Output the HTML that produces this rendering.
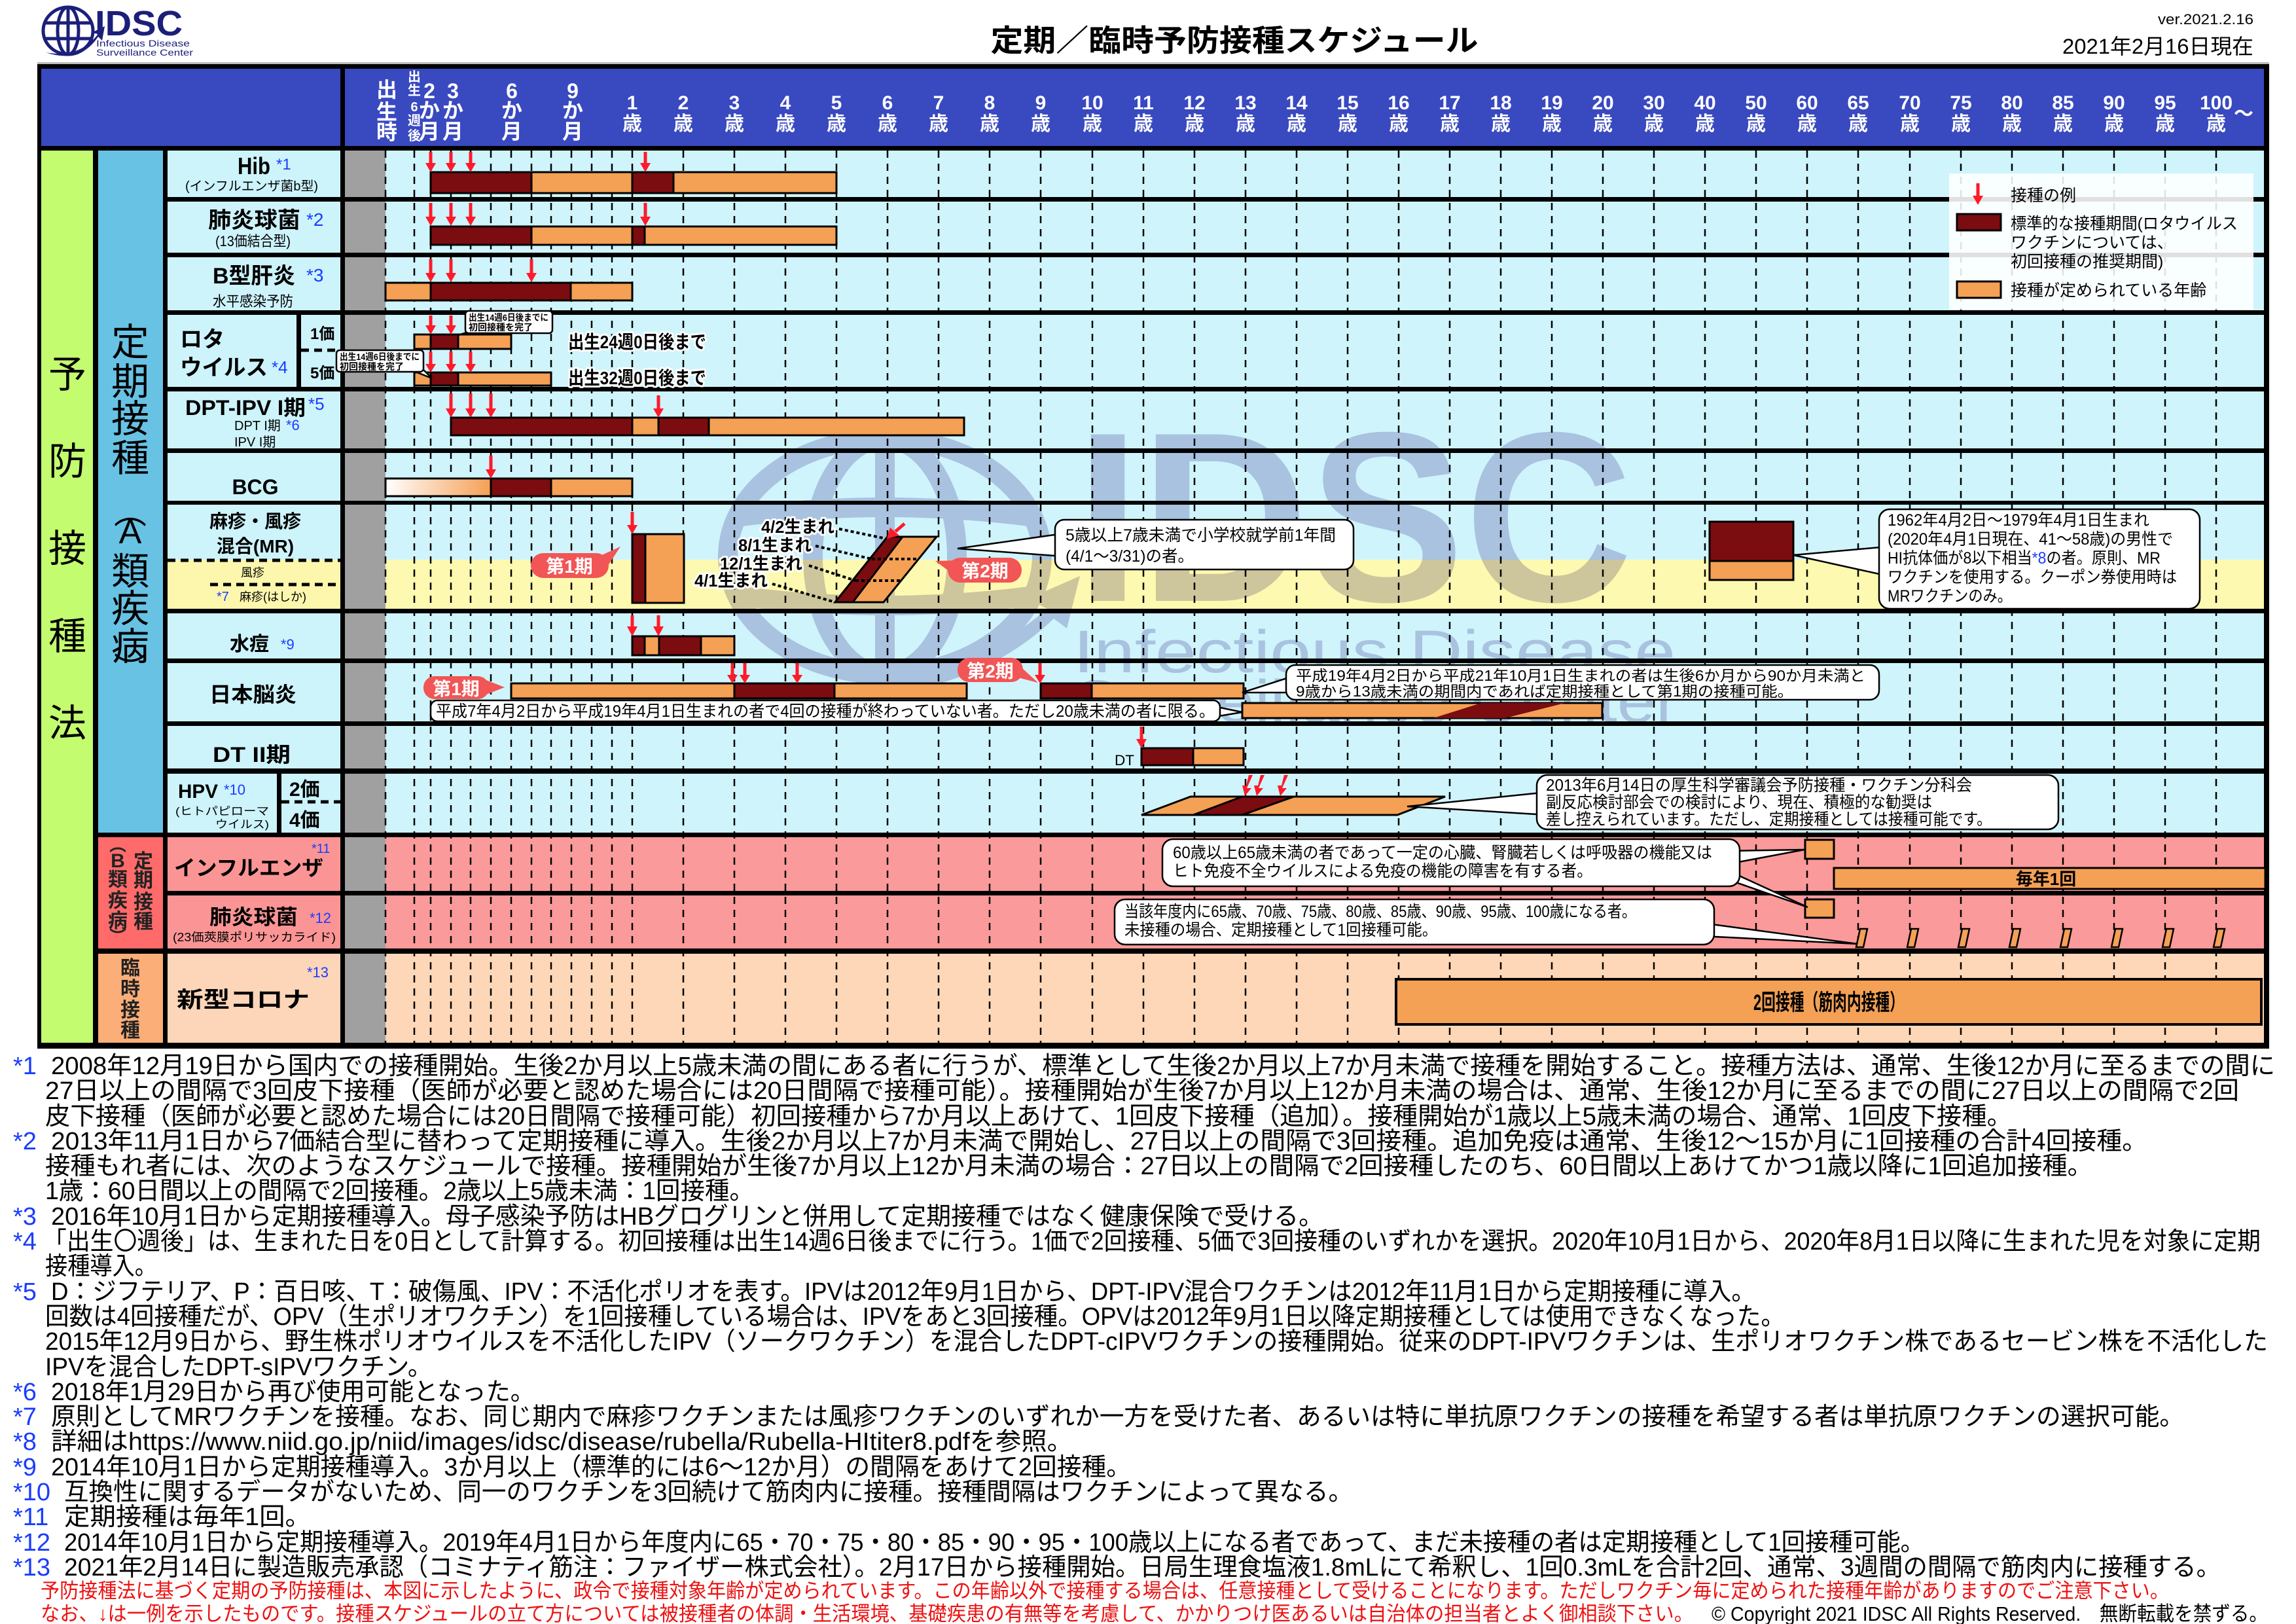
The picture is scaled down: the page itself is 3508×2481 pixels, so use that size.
<!DOCTYPE html>
<html><head><meta charset="utf-8">
<style>
html,body{margin:0;padding:0;background:#fff;}
svg{display:block;}
text{font-family:"Liberation Sans","Noto Sans CJK JP",sans-serif;}
.b{font-weight:700;}
.w{fill:#fff;font-weight:700;}
.bl{fill:#1a3cff;}
.halo{paint-order:stroke;stroke:#fff;stroke-width:6px;stroke-linejoin:round;}
</style></head>
<body>
<svg width="3508" height="2481" viewBox="0 0 3508 2481" xmlns="http://www.w3.org/2000/svg">
<defs>
<linearGradient id="gr" x1="0" x2="1" y1="0" y2="0"><stop offset="0" stop-color="#fff"/><stop offset="1" stop-color="#f4a055"/></linearGradient>
</defs>
<rect width="3508" height="2481" fill="#fff"/>

<!-- top logo -->
<g fill="none" stroke="#1c1f7a" stroke-width="5">
<ellipse cx="104" cy="47" rx="38" ry="36"/>
<ellipse cx="104" cy="47" rx="16" ry="36"/>
<line x1="104" y1="11" x2="104" y2="83"/>
<line x1="68" y1="35" x2="140" y2="35"/><line x1="68" y1="59" x2="140" y2="59"/>
</g>
<path d="M70 80 Q120 90 150 52 L140 50 L160 40 L156 62 L150 56 Q122 98 70 80Z" fill="#1c1f7a"/>
<text x="145" y="54" font-size="54" class="b" fill="#1c1f7a" textLength="134" lengthAdjust="spacingAndGlyphs">IDSC</text>
<text x="147" y="71" font-size="14" fill="#1c1f7a" textLength="143" lengthAdjust="spacingAndGlyphs">Infectious Disease</text>
<text x="147" y="85" font-size="14" fill="#1c1f7a" textLength="148" lengthAdjust="spacingAndGlyphs">Surveillance Center</text>

<text x="1886" y="78" font-size="46" class="b" text-anchor="middle" textLength="745" lengthAdjust="spacingAndGlyphs">定期／臨時予防接種スケジュール</text>
<text x="3443" y="37" font-size="22" text-anchor="end" textLength="146" lengthAdjust="spacingAndGlyphs">ver.2021.2.16</text>
<text x="3443" y="82" font-size="32" text-anchor="end" textLength="292" lengthAdjust="spacingAndGlyphs">2021年2月16日現在</text>

<!-- table frame -->
<rect x="57" y="95" width="3410" height="3" fill="#bbb"/>
<rect x="57" y="98" width="3410" height="1504" fill="#000"/>
<rect x="63" y="105" width="3396" height="118" fill="#3949c0"/>
<rect x="520" y="105" width="7" height="118" fill="#000"/>

<!-- left columns -->
<rect x="63" y="230" width="79" height="1363" fill="#c3fc6f"/>
<rect x="150" y="230" width="99" height="1042" fill="#68c2e4"/>
<rect x="150" y="1279" width="99" height="170" fill="#ff6b6b"/>
<rect x="150" y="1457" width="99" height="136" fill="#fbae78"/>

<!-- name cells -->
<g fill="#cdf3fb">
<rect x="256" y="230" width="264" height="71"/>
<rect x="256" y="308" width="264" height="78"/>
<rect x="256" y="393" width="264" height="81"/>
<rect x="256" y="481" width="264" height="110"/>
<rect x="256" y="598" width="264" height="87"/>
<rect x="256" y="692" width="264" height="73"/>
<rect x="256" y="771" width="264" height="84"/>
<rect x="256" y="937" width="264" height="69"/>
<rect x="256" y="1013" width="264" height="89"/>
<rect x="256" y="1109" width="264" height="65"/>
<rect x="256" y="1182" width="264" height="90"/>
</g>
<rect x="256" y="855" width="264" height="75" fill="#fdf7ae"/>
<rect x="256" y="1279" width="264" height="82" fill="#fb9595"/>
<rect x="256" y="1368" width="264" height="81" fill="#fb9595"/>
<rect x="256" y="1457" width="264" height="136" fill="#fdd5b8"/>
<rect x="527" y="230" width="62" height="1363" fill="#a0a0a0"/>

<!-- grid backgrounds -->
<rect x="589" y="230" width="2870" height="1042" fill="#cff4fc"/>
<rect x="589" y="855" width="2870" height="75" fill="#fdf9b0"/>
<rect x="589" y="1279" width="2870" height="170" fill="#fb9a9a"/>
<rect x="589" y="1457" width="2870" height="136" fill="#fdd7b8"/>

<!-- watermark -->
<g style="mix-blend-mode:multiply" fill="#cfcbe2" stroke="#cfcbe2">
<g fill="none" stroke-width="30">
<ellipse cx="1352" cy="850" rx="240" ry="180"/>
<ellipse cx="1352" cy="850" rx="110" ry="180"/>
<line x1="1352" y1="670" x2="1352" y2="1030"/>
<path d="M1125 790 Q1352 760 1580 790"/>
<path d="M1125 910 Q1352 940 1580 910"/>
</g>
<path d="M1180 1060 Q1450 1060 1600 930 L1570 915 L1650 880 L1630 960 L1610 945 Q1460 1090 1180 1060Z" stroke="none"/>
<text x="1643" y="918" font-size="370" class="b" stroke="none" textLength="852" lengthAdjust="spacingAndGlyphs">IDSC</text>
<text x="1640" y="1027" font-size="92" stroke="none" textLength="920" lengthAdjust="spacingAndGlyphs">Infectious Disease</text>
<text x="1640" y="1103" font-size="92" stroke="none" textLength="925" lengthAdjust="spacingAndGlyphs">Surveillance Center</text>
</g>

<!-- dashed grid lines -->
<g stroke="#000" stroke-width="2.5" stroke-dasharray="11 9">
<line x1="589" y1="230" x2="589" y2="1593"/><line x1="633" y1="230" x2="633" y2="1593"/>
<line x1="658" y1="230" x2="658" y2="1593"/><line x1="689" y1="230" x2="689" y2="1593"/>
<line x1="719" y1="230" x2="719" y2="1593"/><line x1="750" y1="230" x2="750" y2="1593"/>
<line x1="781" y1="230" x2="781" y2="1593"/><line x1="812" y1="230" x2="812" y2="1593"/>
<line x1="842" y1="230" x2="842" y2="1593"/><line x1="873" y1="230" x2="873" y2="1593"/>
<line x1="904" y1="230" x2="904" y2="1593"/><line x1="935" y1="230" x2="935" y2="1593"/>
<line x1="966" y1="230" x2="966" y2="1593"/><line x1="1044" y1="230" x2="1044" y2="1593"/>
<line x1="1122" y1="230" x2="1122" y2="1593"/><line x1="1200" y1="230" x2="1200" y2="1593"/>
<line x1="1278" y1="230" x2="1278" y2="1593"/><line x1="1356" y1="230" x2="1356" y2="1593"/>
<line x1="1434" y1="230" x2="1434" y2="1593"/><line x1="1512" y1="230" x2="1512" y2="1593"/>
<line x1="1590" y1="230" x2="1590" y2="1593"/><line x1="1669" y1="230" x2="1669" y2="1593"/>
<line x1="1747" y1="230" x2="1747" y2="1593"/><line x1="1825" y1="230" x2="1825" y2="1593"/>
<line x1="1903" y1="230" x2="1903" y2="1593"/><line x1="1981" y1="230" x2="1981" y2="1593"/>
<line x1="2059" y1="230" x2="2059" y2="1593"/><line x1="2137" y1="230" x2="2137" y2="1593"/>
<line x1="2215" y1="230" x2="2215" y2="1593"/><line x1="2293" y1="230" x2="2293" y2="1593"/>
<line x1="2371" y1="230" x2="2371" y2="1593"/><line x1="2449" y1="230" x2="2449" y2="1593"/>
<line x1="2527" y1="230" x2="2527" y2="1593"/><line x1="2605" y1="230" x2="2605" y2="1593"/>
<line x1="2683" y1="230" x2="2683" y2="1593"/><line x1="2761" y1="230" x2="2761" y2="1593"/>
<line x1="2839" y1="230" x2="2839" y2="1593"/><line x1="2918" y1="230" x2="2918" y2="1593"/>
<line x1="2996" y1="230" x2="2996" y2="1593"/><line x1="3074" y1="230" x2="3074" y2="1593"/>
<line x1="3152" y1="230" x2="3152" y2="1593"/><line x1="3230" y1="230" x2="3230" y2="1593"/>
<line x1="3308" y1="230" x2="3308" y2="1593"/><line x1="3386" y1="230" x2="3386" y2="1593"/>
</g>

<!-- black separators -->
<g fill="#000">
<rect x="57" y="223" width="3410" height="7"/>
<rect x="142" y="223" width="8" height="1375"/>
<rect x="249" y="223" width="7" height="1375"/>
<rect x="520" y="223" width="7" height="1375"/>
<rect x="249" y="301" width="3218" height="7"/>
<rect x="249" y="386" width="3218" height="7"/>
<rect x="249" y="474" width="3218" height="7"/>
<rect x="249" y="591" width="3218" height="7"/>
<rect x="249" y="685" width="3218" height="7"/>
<rect x="249" y="765" width="3218" height="6"/>
<rect x="249" y="930" width="3218" height="7"/>
<rect x="249" y="1006" width="3218" height="7"/>
<rect x="249" y="1102" width="3218" height="7"/>
<rect x="249" y="1174" width="3218" height="8"/>
<rect x="150" y="1272" width="3317" height="7"/>
<rect x="249" y="1361" width="3218" height="7"/>
<rect x="150" y="1449" width="3317" height="8"/>
<rect x="453" y="481" width="7" height="110"/>
<rect x="423" y="1182" width="7" height="90"/>
</g>
<g stroke="#000" stroke-width="5" stroke-dasharray="12 8">
<line x1="460" y1="535" x2="520" y2="535"/>
<line x1="256" y1="856" x2="520" y2="856"/>
<line x1="321" y1="893" x2="520" y2="893"/>
<line x1="430" y1="1225" x2="520" y2="1225"/>
</g>

<!-- header labels -->
<g class="w" fill="#fff" font-size="32" text-anchor="middle">
<text x="591" y="148">出</text><text x="591" y="182">生</text><text x="591" y="213">時</text>
<g font-size="20"><text x="633" y="124">出</text><text x="633" y="145">生</text><text x="633" y="170">6</text><text x="633" y="191">週</text><text x="633" y="214">後</text></g>
<text x="656" y="150">2</text><text x="656" y="180">か</text><text x="656" y="212">月</text>
<text x="692" y="150">3</text><text x="692" y="180">か</text><text x="692" y="212">月</text>
<text x="782" y="150">6</text><text x="782" y="180">か</text><text x="782" y="212">月</text>
<text x="875" y="150">9</text><text x="875" y="180">か</text><text x="875" y="212">月</text>
<g font-size="30">
<text x="966" y="167">1</text><text x="1044" y="167">2</text><text x="1122" y="167">3</text><text x="1200" y="167">4</text><text x="1278" y="167">5</text><text x="1356" y="167">6</text><text x="1434" y="167">7</text><text x="1512" y="167">8</text><text x="1590" y="167">9</text><text x="1669" y="167">10</text><text x="1747" y="167">11</text><text x="1825" y="167">12</text><text x="1903" y="167">13</text><text x="1981" y="167">14</text><text x="2059" y="167">15</text><text x="2137" y="167">16</text><text x="2215" y="167">17</text><text x="2293" y="167">18</text><text x="2371" y="167">19</text><text x="2449" y="167">20</text><text x="2527" y="167">30</text><text x="2605" y="167">40</text><text x="2683" y="167">50</text><text x="2761" y="167">60</text><text x="2839" y="167">65</text><text x="2918" y="167">70</text><text x="2996" y="167">75</text><text x="3074" y="167">80</text><text x="3152" y="167">85</text><text x="3230" y="167">90</text><text x="3308" y="167">95</text><text x="3386" y="167">100</text>
<text x="966" y="199">歳</text><text x="1044" y="199">歳</text><text x="1122" y="199">歳</text><text x="1200" y="199">歳</text><text x="1278" y="199">歳</text><text x="1356" y="199">歳</text><text x="1434" y="199">歳</text><text x="1512" y="199">歳</text><text x="1590" y="199">歳</text><text x="1669" y="199">歳</text><text x="1747" y="199">歳</text><text x="1825" y="199">歳</text><text x="1903" y="199">歳</text><text x="1981" y="199">歳</text><text x="2059" y="199">歳</text><text x="2137" y="199">歳</text><text x="2215" y="199">歳</text><text x="2293" y="199">歳</text><text x="2371" y="199">歳</text><text x="2449" y="199">歳</text><text x="2527" y="199">歳</text><text x="2605" y="199">歳</text><text x="2683" y="199">歳</text><text x="2761" y="199">歳</text><text x="2839" y="199">歳</text><text x="2918" y="199">歳</text><text x="2996" y="199">歳</text><text x="3074" y="199">歳</text><text x="3152" y="199">歳</text><text x="3230" y="199">歳</text><text x="3308" y="199">歳</text><text x="3386" y="199">歳</text>
<text x="3428" y="184">～</text>
</g>
</g>

<!-- left vertical labels -->
<g font-size="58" text-anchor="middle">
<text x="103" y="592">予</text><text x="103" y="725">防</text><text x="103" y="858">接</text><text x="103" y="992">種</text><text x="103" y="1125">法</text>
<text x="199" y="543">定</text><text x="199" y="603">期</text><text x="199" y="660">接</text><text x="199" y="720">種</text>
<text x="199" y="800" font-size="50">︵</text><text x="199" y="830" font-size="52">A</text><text x="199" y="893">類</text><text x="199" y="950">疾</text><text x="199" y="1008">病</text><text x="199" y="1040" font-size="50">︶</text>
</g>
<g font-size="30" text-anchor="middle" fill="#222" class="b">
<text x="180" y="1300" font-size="26">︵</text><text x="180" y="1325">B</text><text x="180" y="1354">類</text><text x="180" y="1386">疾</text><text x="180" y="1417">病</text><text x="180" y="1440" font-size="26">︶</text>
<text x="219" y="1326">定</text><text x="219" y="1355">期</text><text x="219" y="1388">接</text><text x="219" y="1418">種</text>
<text x="199" y="1489">臨</text><text x="199" y="1521">時</text><text x="199" y="1553">接</text><text x="199" y="1584">種</text>
</g>

<!-- names -->
<g class="b">
<text x="363" y="266" font-size="36" textLength="50" lengthAdjust="spacingAndGlyphs">Hib</text>
<text x="283" y="291" font-size="20" font-weight="400" textLength="203" lengthAdjust="spacingAndGlyphs">(インフルエンザ菌b型)</text>
<text x="318" y="348" font-size="34" textLength="141" lengthAdjust="spacingAndGlyphs">肺炎球菌</text>
<text x="329" y="376" font-size="22" font-weight="400" textLength="115" lengthAdjust="spacingAndGlyphs">(13価結合型)</text>
<text x="325" y="433" font-size="34" textLength="126" lengthAdjust="spacingAndGlyphs">B型肝炎</text>
<text x="325" y="468" font-size="22" font-weight="400" textLength="123" lengthAdjust="spacingAndGlyphs">水平感染予防</text>
<text x="275" y="530" font-size="34">ロタ</text>
<text x="275" y="573" font-size="34" textLength="134" lengthAdjust="spacingAndGlyphs">ウイルス</text>
<text x="474" y="518" font-size="24">1価</text>
<text x="474" y="578" font-size="24">5価</text>
<text x="283" y="634" font-size="32" textLength="184" lengthAdjust="spacingAndGlyphs">DPT-IPV I期</text>
<text x="358" y="657" font-size="20" font-weight="400">DPT I期</text>
<text x="358" y="682" font-size="20" font-weight="400">IPV I期</text>
<text x="390" y="755" font-size="32" text-anchor="middle">BCG</text>
<text x="390" y="806" font-size="28" text-anchor="middle">麻疹・風疹</text>
<text x="390" y="844" font-size="28" text-anchor="middle">混合(MR)</text>
<text x="386" y="881" font-size="18" font-weight="400" text-anchor="middle">風疹</text>
<text x="366" y="918" font-size="18" font-weight="400">麻疹(はしか)</text>
<text x="351" y="994" font-size="30">水痘</text>
<text x="320" y="1072" font-size="32" textLength="133" lengthAdjust="spacingAndGlyphs">日本脳炎</text>
<text x="325" y="1164" font-size="32" textLength="119" lengthAdjust="spacingAndGlyphs">DT II期</text>
<text x="272" y="1219" font-size="30" textLength="61" lengthAdjust="spacingAndGlyphs">HPV</text>
<text x="268" y="1245" font-size="17" font-weight="400" textLength="143" lengthAdjust="spacingAndGlyphs">(ヒトパピローマ</text>
<text x="329" y="1265" font-size="17" font-weight="400" textLength="82" lengthAdjust="spacingAndGlyphs">ウイルス)</text>
<text x="442" y="1216" font-size="30">2価</text>
<text x="442" y="1263" font-size="30">4価</text>
<text x="266" y="1337" font-size="32" textLength="228" lengthAdjust="spacingAndGlyphs">インフルエンザ</text>
<text x="320" y="1412" font-size="32" textLength="135" lengthAdjust="spacingAndGlyphs">肺炎球菌</text>
<text x="264" y="1438" font-size="18" font-weight="400" textLength="249" lengthAdjust="spacingAndGlyphs">(23価莢膜ポリサッカライド)</text>
<text x="270" y="1539" font-size="34" textLength="203" lengthAdjust="spacingAndGlyphs">新型コロナ</text>
</g>
<g class="bl" font-size="24">
<text x="422" y="259">*1</text><text x="468" y="345" font-size="28">*2</text><text x="468" y="430" font-size="28">*3</text>
<text x="415" y="570" font-size="26">*4</text><text x="471" y="626" font-size="26">*5</text><text x="437" y="657" font-size="22">*6</text>
<text x="331" y="918" font-size="20">*7</text><text x="429" y="992" font-size="22">*9</text><text x="342" y="1214" font-size="22">*10</text>
<text x="476" y="1303" font-size="20">*11</text><text x="473" y="1410" font-size="22">*12</text><text x="469" y="1493" font-size="22">*13</text>
</g>

<!-- legend -->
<rect x="2978" y="265" width="465" height="208" fill="#fff" fill-opacity="0.88"/>
<rect x="2990" y="327" width="67" height="25" fill="#7b0c10" stroke="#000" stroke-width="3"/>
<rect x="2990" y="430" width="67" height="25" fill="#f4a055" stroke="#000" stroke-width="3"/>
<g font-size="25">
<text x="3072" y="307">接種の例</text>
<text x="3072" y="350" textLength="347" lengthAdjust="spacingAndGlyphs">標準的な接種期間(ロタウイルス</text>
<text x="3072" y="379">ワクチンについては、</text>
<text x="3072" y="408">初回接種の推奨期間)</text>
<text x="3072" y="452">接種が定められている年齢</text>
</g>

<!-- bars -->
<g stroke="#000" stroke-width="3">
<!-- Hib -->
<rect x="658" y="263" width="154" height="32" fill="#7b0c10"/><rect x="812" y="263" width="154" height="32" fill="#f4a055"/><rect x="966" y="263" width="63" height="32" fill="#7b0c10"/><rect x="1029" y="263" width="249" height="32" fill="#f4a055"/>
<!-- PCV -->
<rect x="658" y="346" width="154" height="28" fill="#7b0c10"/><rect x="812" y="346" width="154" height="28" fill="#f4a055"/><rect x="966" y="346" width="19" height="28" fill="#7b0c10"/><rect x="985" y="346" width="293" height="28" fill="#f4a055"/>
<!-- HepB -->
<rect x="589" y="432" width="69" height="27" fill="#f4a055"/><rect x="658" y="432" width="214" height="27" fill="#7b0c10"/><rect x="872" y="432" width="94" height="27" fill="#f4a055"/>
<!-- Rota -->
<rect x="633" y="511" width="25" height="22" fill="#f4a055"/><rect x="658" y="511" width="42" height="22" fill="#7b0c10"/><rect x="700" y="511" width="81" height="22" fill="#f4a055"/>
<rect x="633" y="569" width="25" height="20" fill="#f4a055"/><rect x="658" y="569" width="42" height="20" fill="#7b0c10"/><rect x="700" y="569" width="142" height="20" fill="#f4a055"/>
<!-- DPT -->
<rect x="689" y="638" width="277" height="27" fill="#7b0c10"/><rect x="966" y="638" width="40" height="27" fill="#f4a055"/><rect x="1006" y="638" width="77" height="27" fill="#7b0c10"/><rect x="1083" y="638" width="390" height="27" fill="#f4a055"/>
<!-- BCG -->
<rect x="589" y="731" width="161" height="27" fill="url(#gr)"/><rect x="750" y="731" width="92" height="27" fill="#7b0c10"/><rect x="842" y="731" width="124" height="27" fill="#f4a055"/>
<!-- MR -->
<rect x="966" y="816" width="20" height="105" fill="#7b0c10"/><rect x="986" y="816" width="59" height="105" fill="#f4a055"/>
<polygon points="1356,820 1431,820 1350,920 1276,920" fill="#f4a055"/>
<polygon points="1356,820 1379,820 1303,920 1276,920" fill="#7b0c10"/>
<rect x="2612" y="797" width="128" height="60" fill="#7b0c10"/><rect x="2612" y="857" width="128" height="29" fill="#f4a055"/>
<!-- Varicella -->
<rect x="966" y="972" width="19" height="29" fill="#7b0c10"/><rect x="985" y="972" width="22" height="29" fill="#f4a055"/><rect x="1007" y="972" width="64" height="29" fill="#7b0c10"/><rect x="1071" y="972" width="51" height="29" fill="#f4a055"/>
<!-- JE -->
<rect x="781" y="1044" width="341" height="23" fill="#f4a055"/><rect x="1122" y="1044" width="153" height="23" fill="#7b0c10"/><rect x="1275" y="1044" width="202" height="23" fill="#f4a055"/>
<rect x="1590" y="1044" width="78" height="23" fill="#7b0c10"/><rect x="1668" y="1044" width="232" height="23" fill="#f4a055"/>
<rect x="1898" y="1074" width="550" height="23" fill="#f4a055"/>
<polygon points="2190,1097 2263,1074 2391,1074 2300,1097" fill="#7b0c10" stroke="none"/>
<!-- DT -->
<rect x="1744" y="1143" width="79" height="26" fill="#7b0c10"/><rect x="1823" y="1143" width="77" height="26" fill="#f4a055"/>
<!-- HPV -->
<polygon points="1744,1245 1819,1217 2208,1217 2135,1245" fill="#f4a055"/>
<polygon points="1823,1245 1898,1217 1977,1217 1898,1245" fill="#7b0c10"/>
<!-- Flu / PPSV -->
<rect x="2758" y="1283" width="44" height="29" fill="#f4a055"/>
<rect x="2802" y="1326" width="659" height="32" fill="#f4a055"/>
<rect x="2758" y="1374" width="44" height="28" fill="#f4a055"/>
<g stroke-width="2.5" fill="#f4a055">
<polygon points="2836,1447 2847,1447 2853,1419 2842,1419"/><polygon points="2914,1447 2925,1447 2931,1419 2920,1419"/>
<polygon points="2992,1447 3003,1447 3009,1419 2998,1419"/><polygon points="3070,1447 3081,1447 3087,1419 3076,1419"/>
<polygon points="3148,1447 3159,1447 3165,1419 3154,1419"/><polygon points="3226,1447 3237,1447 3243,1419 3232,1419"/>
<polygon points="3304,1447 3315,1447 3321,1419 3310,1419"/><polygon points="3382,1447 3393,1447 3399,1419 3388,1419"/>
</g>
<!-- Covid -->
<rect x="2133" y="1496" width="1322" height="69" fill="#f4a055" stroke-width="4"/>
</g>
<text x="3126" y="1352" font-size="26" class="b" text-anchor="middle">毎年1回</text>
<text x="2794" y="1543" font-size="34" class="b" text-anchor="middle" textLength="230" lengthAdjust="spacingAndGlyphs">2回接種（筋肉内接種）</text>
<text x="1703" y="1169" font-size="22" textLength="30" lengthAdjust="spacingAndGlyphs">DT</text>

<!-- MR dotted lines -->
<g stroke="#000" stroke-width="4" stroke-dasharray="5 4">
<line x1="1332" y1="854" x2="1401" y2="854"/><line x1="1307" y1="887" x2="1376" y2="887"/>
<line x1="1282" y1="808" x2="1354" y2="823"/><line x1="1246" y1="834" x2="1332" y2="854"/>
<line x1="1236" y1="864" x2="1307" y2="887"/><line x1="1180" y1="892" x2="1276" y2="920"/>
</g>
<g font-size="26" class="b halo">
<text x="1163" y="814" textLength="112" lengthAdjust="spacingAndGlyphs">4/2生まれ</text>
<text x="1128" y="842" textLength="112" lengthAdjust="spacingAndGlyphs">8/1生まれ</text>
<text x="1100" y="870" textLength="126" lengthAdjust="spacingAndGlyphs">12/1生まれ</text>
<text x="1061" y="896" textLength="112" lengthAdjust="spacingAndGlyphs">4/1生まれ</text>
</g>

<!-- red pills -->
<g fill="#f25555">
<rect x="811" y="845" width="119" height="38" rx="19"/><polygon points="915,850 948,835 925,870"/>
<rect x="1448" y="852" width="113" height="38" rx="19"/><polygon points="1465,856 1429,857 1460,880"/>
<rect x="647" y="1033" width="100" height="35" rx="17"/><polygon points="735,1036 771,1050 735,1064"/>
<rect x="1463" y="1005" width="100" height="37" rx="18"/><polygon points="1550,1010 1586,1043 1555,1035"/>
</g>
<g class="w" font-size="28" text-anchor="middle">
<text x="870" y="875">第1期</text><text x="1505" y="882">第2期</text><text x="697" y="1062">第1期</text><text x="1513" y="1035">第2期</text>
</g>

<!-- callouts -->
<g fill="#fff" stroke="#000" stroke-width="2.5">
<polygon points="725,504 700,512 740,500"/><rect x="711" y="475" width="133" height="34" rx="5"/>
<polygon points="630,566 660,578 645,563"/><rect x="514" y="535" width="133" height="33" rx="5"/>
<polygon points="1625,815 1463,838 1625,850"/><rect x="1612" y="794" width="456" height="76" rx="14"/>
<polygon points="2885,835 2740,848 2885,880"/><rect x="2871" y="778" width="490" height="152" rx="16"/>
<polygon points="1850,1078 1898,1088 1850,1096"/><rect x="658" y="1070" width="1206" height="32" rx="10"/>
<polygon points="1985,1030 1898,1058 1985,1058"/><rect x="1965" y="1016" width="906" height="53" rx="14"/>
<polygon points="2365,1210 2150,1232 2365,1245"/><rect x="2348" y="1184" width="797" height="83" rx="16"/>
<polygon points="2640,1300 2757,1298 2640,1320"/>
<polygon points="2600,1330 2762,1386 2640,1330"/>
<polygon points="2600,1410 2838,1442 2600,1430"/>
<rect x="1776" y="1282" width="882" height="72" rx="16"/>
<rect x="1703" y="1374" width="916" height="69" rx="16"/>
</g>
<g font-size="14" class="b">
<text x="716" y="490" textLength="122" lengthAdjust="spacingAndGlyphs">出生14週6日後までに</text>
<text x="716" y="505">初回接種を完了</text>
<text x="519" y="550" textLength="122" lengthAdjust="spacingAndGlyphs">出生14週6日後までに</text>
<text x="519" y="565">初回接種を完了</text>
</g>
<g font-size="28" class="b halo">
<text x="868" y="532" textLength="211" lengthAdjust="spacingAndGlyphs">出生24週0日後まで</text>
<text x="868" y="587" textLength="211" lengthAdjust="spacingAndGlyphs">出生32週0日後まで</text>
</g>
<g font-size="25">
<text x="1628" y="826" textLength="413" lengthAdjust="spacingAndGlyphs">5歳以上7歳未満で小学校就学前1年間</text>
<text x="1628" y="858" textLength="196" lengthAdjust="spacingAndGlyphs">(4/1～3/31)の者。</text>
<text x="2884" y="803" textLength="400" lengthAdjust="spacingAndGlyphs">1962年4月2日～1979年4月1日生まれ</text>
<text x="2884" y="832" textLength="436" lengthAdjust="spacingAndGlyphs">(2020年4月1日現在、41～58歳)の男性で</text>
<text x="2884" y="861" textLength="417" lengthAdjust="spacingAndGlyphs">HI抗体価が8以下相当<tspan class="bl">*8</tspan>の者。原則、MR</text>
<text x="2884" y="890" textLength="442" lengthAdjust="spacingAndGlyphs">ワクチンを使用する。クーポン券使用時は</text>
<text x="2884" y="919" textLength="190" lengthAdjust="spacingAndGlyphs">MRワクチンのみ。</text>
<text x="666" y="1095" textLength="1190" lengthAdjust="spacingAndGlyphs">平成7年4月2日から平成19年4月1日生まれの者で4回の接種が終わっていない者。ただし20歳未満の者に限る。</text>
<text x="1980" y="1040" font-size="23" textLength="870" lengthAdjust="spacingAndGlyphs">平成19年4月2日から平成21年10月1日生まれの者は生後6か月から90か月未満と</text>
<text x="1980" y="1064" font-size="23" textLength="760" lengthAdjust="spacingAndGlyphs">9歳から13歳未満の期間内であれば定期接種として第1期の接種可能。</text>
<text x="2362" y="1208" textLength="651" lengthAdjust="spacingAndGlyphs">2013年6月14日の厚生科学審議会予防接種・ワクチン分科会</text>
<text x="2362" y="1234" textLength="590" lengthAdjust="spacingAndGlyphs">副反応検討部会での検討により、現在、積極的な勧奨は</text>
<text x="2362" y="1260" textLength="681" lengthAdjust="spacingAndGlyphs">差し控えられています。ただし、定期接種としては接種可能です。</text>
<text x="1792" y="1311" textLength="824" lengthAdjust="spacingAndGlyphs">60歳以上65歳未満の者であって一定の心臓、腎臓若しくは呼吸器の機能又は</text>
<text x="1792" y="1339" textLength="641" lengthAdjust="spacingAndGlyphs">ヒト免疫不全ウイルスによる免疫の機能の障害を有する者。</text>
<text x="1718" y="1401" textLength="782" lengthAdjust="spacingAndGlyphs">当該年度内に65歳、70歳、75歳、80歳、85歳、90歳、95歳、100歳になる者。</text>
<text x="1718" y="1429" textLength="478" lengthAdjust="spacingAndGlyphs">未接種の場合、定期接種として1回接種可能。</text>
</g>

<!-- red arrows -->
<g stroke="#ff1a2a" stroke-width="5" fill="#ff1a2a">
<line x1="658" y1="232" x2="658" y2="250"/><line x1="689" y1="232" x2="689" y2="250"/><line x1="719" y1="232" x2="719" y2="250"/><line x1="986" y1="232" x2="986" y2="250"/>
<line x1="658" y1="310" x2="658" y2="332"/><line x1="689" y1="310" x2="689" y2="332"/><line x1="719" y1="310" x2="719" y2="332"/><line x1="986" y1="310" x2="986" y2="332"/>
<line x1="658" y1="396" x2="658" y2="418"/><line x1="689" y1="396" x2="689" y2="418"/><line x1="812" y1="396" x2="812" y2="418"/>
<line x1="658" y1="482" x2="658" y2="498"/><line x1="689" y1="482" x2="689" y2="498"/>
<line x1="658" y1="537" x2="658" y2="557"/><line x1="689" y1="537" x2="689" y2="557"/><line x1="719" y1="537" x2="719" y2="557"/>
<line x1="689" y1="601" x2="689" y2="625"/><line x1="719" y1="601" x2="719" y2="625"/><line x1="750" y1="601" x2="750" y2="625"/><line x1="1006" y1="604" x2="1006" y2="625"/>
<line x1="750" y1="696" x2="750" y2="718"/>
<line x1="966" y1="782" x2="966" y2="803"/>
<line x1="966" y1="940" x2="966" y2="958"/><line x1="1006" y1="940" x2="1006" y2="958"/>
<line x1="1119" y1="1013" x2="1119" y2="1032"/><line x1="1138" y1="1013" x2="1138" y2="1032"/><line x1="1218" y1="1013" x2="1218" y2="1032"/><line x1="1589" y1="1013" x2="1589" y2="1032"/>
<line x1="1744" y1="1110" x2="1744" y2="1130"/>
<line x1="3022" y1="280" x2="3022" y2="300"/>
<line x1="1382" y1="800" x2="1368" y2="812"/>
</g>
<g fill="#ff1a2a">
<polygon points="650,249 666,249 658,263"/><polygon points="681,249 697,249 689,263"/><polygon points="711,249 727,249 719,263"/><polygon points="978,249 994,249 986,263"/>
<polygon points="650,331 666,331 658,345"/><polygon points="681,331 697,331 689,345"/><polygon points="711,331 727,331 719,345"/><polygon points="978,331 994,331 986,345"/>
<polygon points="650,417 666,417 658,431"/><polygon points="681,417 697,417 689,431"/><polygon points="804,417 820,417 812,431"/>
<polygon points="650,497 666,497 658,511"/><polygon points="681,497 697,497 689,511"/>
<polygon points="650,556 666,556 658,569"/><polygon points="681,556 697,556 689,569"/><polygon points="711,556 727,556 719,569"/>
<polygon points="681,624 697,624 689,638"/><polygon points="711,624 727,624 719,638"/><polygon points="742,624 758,624 750,638"/><polygon points="998,624 1014,624 1006,638"/>
<polygon points="742,717 758,717 750,731"/>
<polygon points="958,802 974,802 966,816"/>
<polygon points="958,957 974,957 966,972"/><polygon points="998,957 1014,957 1006,972"/>
<polygon points="1111,1031 1127,1031 1119,1044"/><polygon points="1130,1031 1146,1031 1138,1044"/><polygon points="1210,1031 1226,1031 1218,1044"/><polygon points="1581,1031 1597,1031 1589,1044"/>
<polygon points="1736,1129 1752,1129 1744,1143"/>
<polygon points="3014,299 3030,299 3022,313"/>
<polygon points="1360,806 1374,818 1355,823"/>
<polygon points="1908,1184 1914,1184 1905,1204 1912,1204 1902,1216 1898,1200 1904,1200"/>
<polygon points="1926,1184 1932,1184 1923,1204 1930,1204 1920,1216 1916,1200 1922,1200"/>
<polygon points="1962,1184 1968,1184 1959,1204 1966,1204 1956,1216 1952,1200 1958,1200"/>
</g>

<!-- notes -->
<g font-size="38">
<g class="bl"><text x="20" y="1641">*1</text><text x="20" y="1756">*2</text><text x="20" y="1871">*3</text><text x="20" y="1909">*4</text><text x="20" y="1986">*5</text><text x="20" y="2139">*6</text><text x="20" y="2177">*7</text><text x="20" y="2215">*8</text><text x="20" y="2254">*9</text><text x="20" y="2292">*10</text><text x="20" y="2330">*11</text><text x="20" y="2369">*12</text><text x="20" y="2407">*13</text></g>
<text x="78" y="1641" textLength="3398" lengthAdjust="spacingAndGlyphs">2008年12月19日から国内での接種開始。生後2か月以上5歳未満の間にある者に行うが、標準として生後2か月以上7か月未満で接種を開始すること。接種方法は、通常、生後12か月に至るまでの間に</text>
<text x="69" y="1679" textLength="3352" lengthAdjust="spacingAndGlyphs">27日以上の間隔で3回皮下接種（医師が必要と認めた場合には20日間隔で接種可能）。接種開始が生後7か月以上12か月未満の場合は、通常、生後12か月に至るまでの間に27日以上の間隔で2回</text>
<text x="69" y="1718" textLength="3005" lengthAdjust="spacingAndGlyphs">皮下接種（医師が必要と認めた場合には20日間隔で接種可能）初回接種から7か月以上あけて、1回皮下接種（追加）。接種開始が1歳以上5歳未満の場合、通常、1回皮下接種。</text>
<text x="78" y="1756" textLength="3203" lengthAdjust="spacingAndGlyphs">2013年11月1日から7価結合型に替わって定期接種に導入。生後2か月以上7か月未満で開始し、27日以上の間隔で3回接種。追加免疫は通常、生後12～15か月に1回接種の合計4回接種。</text>
<text x="69" y="1794" textLength="3128" lengthAdjust="spacingAndGlyphs">接種もれ者には、次のようなスケジュールで接種。接種開始が生後7か月以上12か月未満の場合：27日以上の間隔で2回接種したのち、60日間以上あけてかつ1歳以降に1回追加接種。</text>
<text x="69" y="1832" textLength="1083" lengthAdjust="spacingAndGlyphs">1歳：60日間以上の間隔で2回接種。2歳以上5歳未満：1回接種。</text>
<text x="78" y="1871" textLength="1944" lengthAdjust="spacingAndGlyphs">2016年10月1日から定期接種導入。母子感染予防はHBグログリンと併用して定期接種ではなく健康保険で受ける。</text>
<text x="66" y="1909" textLength="3388" lengthAdjust="spacingAndGlyphs">「出生〇週後」は、生まれた日を0日として計算する。初回接種は出生14週6日後までに行う。1価で2回接種、5価で3回接種のいずれかを選択。2020年10月1日から、2020年8月1日以降に生まれた児を対象に定期</text>
<text x="69" y="1947" textLength="171" lengthAdjust="spacingAndGlyphs">接種導入。</text>
<text x="78" y="1986" textLength="2604" lengthAdjust="spacingAndGlyphs">D：ジフテリア、P：百日咳、T：破傷風、IPV：不活化ポリオを表す。IPVは2012年9月1日から、DPT-IPV混合ワクチンは2012年11月1日から定期接種に導入。</text>
<text x="69" y="2024" textLength="2658" lengthAdjust="spacingAndGlyphs">回数は4回接種だが、OPV（生ポリオワクチン）を1回接種している場合は、IPVをあと3回接種。OPVは2012年9月1日以降定期接種としては使用できなくなった。</text>
<text x="69" y="2062" textLength="3396" lengthAdjust="spacingAndGlyphs">2015年12月9日から、野生株ポリオウイルスを不活化したIPV（ソークワクチン）を混合したDPT-cIPVワクチンの接種開始。従来のDPT-IPVワクチンは、生ポリオワクチン株であるセービン株を不活化した</text>
<text x="69" y="2101" textLength="591" lengthAdjust="spacingAndGlyphs">IPVを混合したDPT-sIPVワクチン。</text>
<text x="78" y="2139" textLength="739" lengthAdjust="spacingAndGlyphs">2018年1月29日から再び使用可能となった。</text>
<text x="78" y="2177" textLength="3259" lengthAdjust="spacingAndGlyphs">原則としてMRワクチンを接種。なお、同じ期内で麻疹ワクチンまたは風疹ワクチンのいずれか一方を受けた者、あるいは特に単抗原ワクチンの接種を希望する者は単抗原ワクチンの選択可能。</text>
<text x="78" y="2215" textLength="1561" lengthAdjust="spacingAndGlyphs">詳細はhttps://www.niid.go.jp/niid/images/idsc/disease/rubella/Rubella-HItiter8.pdfを参照。</text>
<text x="78" y="2254" textLength="1650" lengthAdjust="spacingAndGlyphs">2014年10月1日から定期接種導入。3か月以上（標準的には6～12か月）の間隔をあけて2回接種。</text>
<text x="98" y="2292" textLength="1969" lengthAdjust="spacingAndGlyphs">互換性に関するデータがないため、同一のワクチンを3回続けて筋肉内に接種。接種間隔はワクチンによって異なる。</text>
<text x="98" y="2330" textLength="377" lengthAdjust="spacingAndGlyphs">定期接種は毎年1回。</text>
<text x="98" y="2369" textLength="2842" lengthAdjust="spacingAndGlyphs">2014年10月1日から定期接種導入。2019年4月1日から年度内に65・70・75・80・85・90・95・100歳以上になる者であって、まだ未接種の者は定期接種として1回接種可能。</text>
<text x="98" y="2407" textLength="3295" lengthAdjust="spacingAndGlyphs">2021年2月14日に製造販売承認（コミナティ筋注：ファイザー株式会社）。2月17日から接種開始。日局生理食塩液1.8mLにて希釈し、1回0.3mLを合計2回、通常、3週間の間隔で筋肉内に接種する。</text>
</g>
<g font-size="31" fill="#ee1111">
<text x="62" y="2441" textLength="3252" lengthAdjust="spacingAndGlyphs">予防接種法に基づく定期の予防接種は、本図に示したように、政令で接種対象年齢が定められています。この年齢以外で接種する場合は、任意接種として受けることになります。ただしワクチン毎に定められた接種年齢がありますのでご注意下さい。</text>
<text x="62" y="2476" textLength="2525" lengthAdjust="spacingAndGlyphs">なお、↓は一例を示したものです。接種スケジュールの立て方については被接種者の体調・生活環境、基礎疾患の有無等を考慮して、かかりつけ医あるいは自治体の担当者とよく御相談下さい。</text>
</g>
<text x="2615" y="2476" font-size="31" textLength="850" lengthAdjust="spacingAndGlyphs">©  Copyright 2021 IDSC All Rights Reserved.　無断転載を禁ずる。</text>
</svg>
</body></html>
